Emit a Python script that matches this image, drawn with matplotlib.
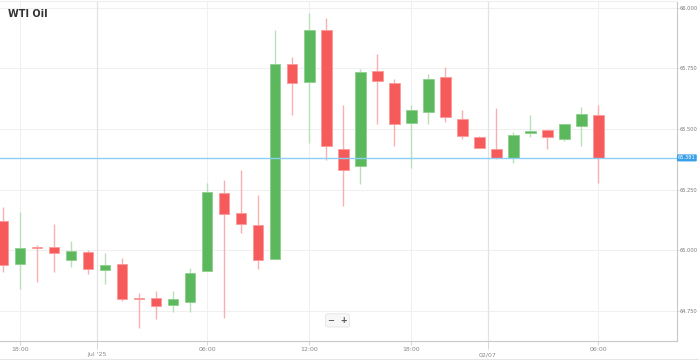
#!/usr/bin/env python3

import matplotlib
import matplotlib.pyplot as plt
from matplotlib.patches import Rectangle

matplotlib.use('Agg')

# hourly candles, left to right
opens = [65.122, 64.942, 65.014, 65.012, 64.960, 64.994, 64.919, 64.944, 64.805, 64.805,
         64.775, 64.788, 64.915, 65.237, 65.152, 65.103, 64.964, 65.767, 65.693, 65.907,
         65.416, 65.348, 65.741, 65.692, 65.523, 65.571, 65.713, 65.542, 65.468, 65.418,
         65.381, 65.483, 65.498, 65.461, 65.511, 65.559]
closes = [64.939, 65.008, 65.008, 64.990, 64.998, 64.923, 64.938, 64.801, 64.799, 64.769,
          64.799, 64.908, 65.241, 65.150, 65.108, 64.960, 65.770, 65.688, 65.910, 65.430,
          65.330, 65.737, 65.697, 65.519, 65.578, 65.708, 65.550, 65.471, 65.423, 65.380,
          65.476, 65.493, 65.467, 65.519, 65.563, 65.381]
highs = [65.180, 65.159, 65.022, 65.110, 65.040, 65.000, 64.990, 64.968, 64.823, 64.834,
         64.832, 64.928, 65.278, 65.288, 65.330, 65.229, 65.907, 65.797, 65.977, 65.958,
         65.598, 65.748, 65.808, 65.708, 65.598, 65.727, 65.758, 65.578, 65.470, 65.587,
         65.487, 65.559, 65.500, 65.521, 65.591, 65.598]
lows = [64.911, 64.842, 64.871, 64.909, 64.930, 64.904, 64.860, 64.790, 64.681, 64.716,
        64.747, 64.747, 64.915, 64.720, 65.072, 64.922, 64.964, 65.560, 65.443, 65.371,
        65.181, 65.274, 65.521, 65.430, 65.340, 65.521, 65.531, 65.457, 65.421, 65.378,
        65.358, 65.468, 65.418, 65.450, 65.430, 65.278]

last_price = 65.381
y_ticks = [64.75, 65.0, 65.25, 65.5, 65.75, 66.0]
time_ticks = [1, 12, 18, 24, 35]
time_labels = ["18:00", "06:00", "12:00", "18:00", "06:00"]
date_ticks = [5.5, 28.5]
date_labels = ["Jul '25", "02/07"]

UP = "#5cb85c"
UP_WICK = "#b9e0b9"
DOWN = "#f75a5a"
DOWN_WICK = "#f9b0b0"


def drawChart():
    fig = plt.figure(figsize=(6.99, 3.60), dpi=100)
    ax = fig.add_axes([0.0, 0.053, 0.968, 0.944])
    ax.set_xlim(-0.18, 39.6)
    ax.set_ylim(64.626, 66.028)

    # grid
    for y in y_ticks:
        ax.axhline(y, color="#f0f0f0", lw=0.8, zorder=0)
    for x in time_ticks:
        ax.axvline(x, color="#f0f0f0", lw=0.8, zorder=0)
    for x in date_ticks:
        ax.axvline(x, color="#e2e2e2", lw=0.9, zorder=0)

    w = 0.62
    for i in range(len(opens)):
        o, c, h, l = opens[i], closes[i], highs[i], lows[i]
        up = c >= o
        ax.vlines(i, l, h, color=UP_WICK if up else DOWN_WICK, lw=1.0, zorder=2)
        lo, hi = min(o, c), max(o, c)
        ax.add_patch(Rectangle((i - w / 2, lo), w, max(hi - lo, 0.004),
                               facecolor=UP if up else DOWN,
                               edgecolor="#8fd08f" if up else "#fb9a9a",
                               lw=0.6, zorder=3))

    ax.axhline(last_price, color="#8ccff5", lw=1.0, zorder=4)

    # axes styling
    for s in ["top", "left"]:
        ax.spines[s].set_visible(False)
    ax.spines["right"].set_color("#c8c8c8")
    ax.spines["bottom"].set_color("#c8c8c8")
    ax.spines["right"].set_linewidth(0.8)
    ax.spines["bottom"].set_linewidth(0.8)

    ax.yaxis.tick_right()
    ax.set_yticks(y_ticks)
    ax.set_yticklabels([f"{v:.3f}" for v in y_ticks])
    ax.tick_params(axis="y", length=1.5, width=0.5, color="#c8c8c8",
                   labelsize=3.7, labelcolor="#777777", pad=1)

    ax.set_xticks(time_ticks)
    ax.set_xticklabels(time_labels)
    ax.set_xticks(date_ticks, minor=True)
    ax.set_xticklabels(date_labels, minor=True)
    ax.tick_params(axis="x", which="major", length=3, width=0.5, color="#c8c8c8",
                   labelsize=4.5, labelcolor="#888888", pad=1.5)
    ax.tick_params(axis="x", which="minor", length=6, width=0.5, color="#c8c8c8",
                   labelsize=4.5, labelcolor="#888888", pad=2)

    # last price label
    ax.text(1.002, last_price, f"{last_price:.3f}", transform=ax.get_yaxis_transform(),
            fontsize=3.7, color="white", va="center", ha="left",
            bbox=dict(boxstyle="round,pad=0.2,rounding_size=0.2",
                      facecolor="#3aa0e8", edgecolor="none"), zorder=5, clip_on=False)

    fig.text(0.012, 0.962, "WTI Oil", fontsize=7, fontweight="bold",
             color="#333333", va="center", ha="left")

    # zoom buttons
    fig.text(0.483, 0.11, "\u2212  +", fontsize=6, fontweight="bold", color="#555555",
             ha="center", va="center",
             bbox=dict(boxstyle="round,pad=0.25", facecolor="#f7f7f7", edgecolor="#e0e0e0", lw=0.5))

    fig.add_artist(plt.Line2D([0, 1], [0.003, 0.003], color="#e6e6e6", lw=0.8))
    fig.add_artist(plt.Line2D([0, 0.968], [0.997, 0.997], color="#eeeeee", lw=0.8))

    fig.savefig("out.png", dpi=100)


def main():
    drawChart()


if __name__ == "__main__":
    main()
